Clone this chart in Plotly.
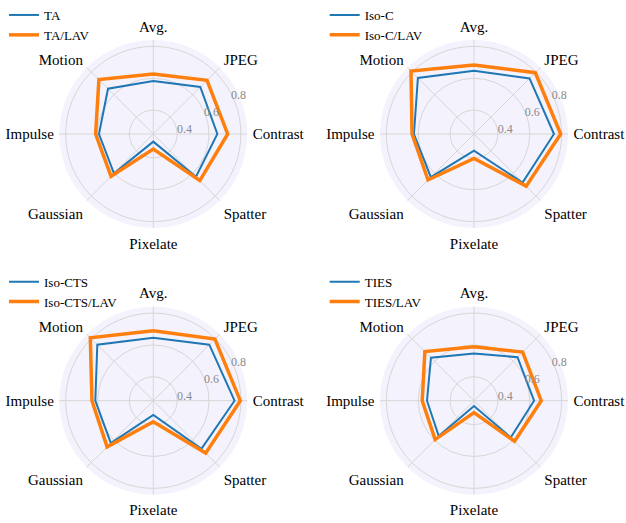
import plotly.graph_objects as go

# Axes of each radar, clockwise from the top
categories = ["Avg.", "JPEG", "Contrast", "Spatter", "Pixelate", "Gaussian", "Impulse", "Motion"]

# Accuracy per corruption type (first entry is the average)
ta = [0.583, 0.667, 0.652, 0.629, 0.298, 0.599, 0.591, 0.652]
ta_lav = [0.627, 0.727, 0.717, 0.663, 0.344, 0.625, 0.612, 0.733]

iso_c = [0.647, 0.743, 0.752, 0.681, 0.355, 0.633, 0.627, 0.748]
iso_c_lav = [0.683, 0.794, 0.794, 0.713, 0.403, 0.658, 0.639, 0.809]

iso_cts = [0.645, 0.747, 0.760, 0.677, 0.340, 0.627, 0.614, 0.747]
iso_cts_lav = [0.689, 0.797, 0.796, 0.715, 0.382, 0.660, 0.635, 0.809]

ties = [0.547, 0.636, 0.627, 0.576, 0.283, 0.563, 0.545, 0.632]
ties_lav = [0.589, 0.682, 0.672, 0.610, 0.325, 0.595, 0.575, 0.686]

radial_ticks = [0.4, 0.6, 0.8]
radial_range = [0.25, 0.84]

panels = [
    ("TA", ta, "TA/LAV", ta_lav),
    ("Iso-C", iso_c, "Iso-C/LAV", iso_c_lav),
    ("Iso-CTS", iso_cts, "Iso-CTS/LAV", iso_cts_lav),
    ("TIES", ties, "TIES/LAV", ties_lav),
]

W, H = 626, 523
BLUE = "#1f77b4"
ORANGE = "#ff7f0e"
FONT = "Liberation Serif"
GRID = "#d6d6d6"

# panel centres (px from top-left) and radius
centres = [(153.3, 134.0), (474.0, 134.0), (153.3, 400.7), (474.0, 400.7)]
R = 94.0
RLABEL_ANGLE = 32

fig = go.Figure()

def closed(vals):
    return list(vals) + [vals[0]]

theta = closed(categories)

for i, (base_name, base_vals, lav_name, lav_vals) in enumerate(panels):
    pid = "polar" if i == 0 else f"polar{i + 1}"
    lid = "legend" if i == 0 else f"legend{i + 1}"
    fig.add_trace(go.Scatterpolar(
        r=closed(base_vals), theta=theta, mode="lines", name=base_name,
        line=dict(color=BLUE, width=2), subplot=pid, legend=lid,
    ))
    fig.add_trace(go.Scatterpolar(
        r=closed(lav_vals), theta=theta, mode="lines", name=lav_name,
        line=dict(color=ORANGE, width=3.5), subplot=pid, legend=lid,
    ))

    cx, cy = centres[i]
    dom_x = [(cx - R) / W, (cx + R) / W]
    dom_y = [(H - cy - R) / H, (H - cy + R) / H]
    fig.layout[pid] = dict(
        domain=dict(x=dom_x, y=dom_y),
        bgcolor="#f4f3fd",
        radialaxis=dict(
            range=radial_range, tickvals=radial_ticks,
            ticktext=[f"{v:.1f}" for v in radial_ticks],
            angle=RLABEL_ANGLE, tickangle=RLABEL_ANGLE, side="clockwise",
            showline=False, ticks="", gridcolor=GRID, gridwidth=1,
            tickfont=dict(family=FONT, size=12, color="#8a8a8a"),
        ),
        angularaxis=dict(
            rotation=90, direction="clockwise", showline=False,
            ticks="outside", ticklen=2, tickcolor="rgba(0,0,0,0)",
            gridcolor=GRID, gridwidth=1,
            tickfont=dict(family=FONT, size=15, color="black"),
        ),
    )

    lx = (cx - 153.3 + 4) / W
    ly = (H - (cy - 134.0)) / H
    fig.layout[lid] = dict(
        x=lx, y=ly, xanchor="left", yanchor="top",
        bgcolor="rgba(0,0,0,0)", font=dict(family=FONT, size=13, color="black"),
        tracegroupgap=0,
    )

fig.update_layout(
    width=W, height=H, margin=dict(l=0, r=0, t=0, b=0),
    paper_bgcolor="white", showlegend=True,
)

fig.write_html("out.html")
